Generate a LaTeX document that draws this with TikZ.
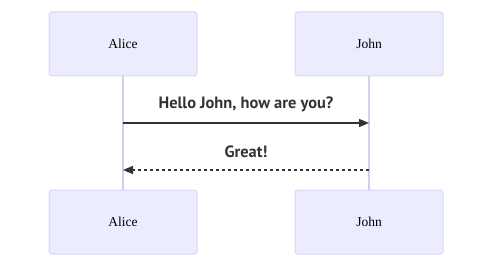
\documentclass[tikz,border=0pt]{standalone}
\usepackage{fontspec}
\setmainfont{Liberation Serif}
\newfontfamily\msgfont{PT Sans}
\usetikzlibrary{arrows.meta}
\definecolor{actorfill}{HTML}{ECECFF}
\definecolor{actorline}{HTML}{DCD3F5}
\definecolor{lifeline}{HTML}{D5CCF2}
\definecolor{msgcol}{HTML}{333333}
\tikzset{
  actor/.style={draw=actorline, fill=actorfill, line width=1pt, rounded corners=3pt,
    minimum width=148pt, minimum height=64pt, inner sep=0pt,
    font=\fontsize{13.5pt}{16pt}\selectfont},
  lifelinestyle/.style={draw=lifeline, line width=1.2pt},
  msg/.style={draw=msgcol, line width=1.3pt, -{Triangle[length=10pt,width=8pt]}},
  msgtext/.style={font=\msgfont\bfseries\fontsize{16.4pt}{19pt}\selectfont, text=msgcol, inner sep=0pt}
}
\begin{document}
\begin{tikzpicture}[x=1pt,y=-1pt]
  \path[use as bounding box] (0,0) rectangle (500,267);
  % participants, top and bottom
  \node[actor] (aliceTop) at (123,44) {Alice};
  \node[actor] (johnTop) at (369,44) {John};
  \node[actor] (aliceBot) at (123,222) {Alice};
  \node[actor] (johnBot) at (369,222) {John};
  % lifelines
  \draw[lifelinestyle] (aliceTop.south) -- (aliceBot.north);
  \draw[lifelinestyle] (johnTop.south) -- (johnBot.north);
  % messages
  \coordinate (m1a) at (123,123);
  \coordinate (m1b) at (369,123);
  \coordinate (m2a) at (369,170);
  \coordinate (m2b) at (123,170);
  \draw[msg] (m1a) -- (m1b);
  \draw[msg, dash pattern=on 3pt off 3pt] (m2a) -- (m2b);
  \node[msgtext] (t1) at (246,104) {Hello John, how are you?};
  \node[msgtext] (t2) at (246,152) {Great!};
\end{tikzpicture}
\end{document}
